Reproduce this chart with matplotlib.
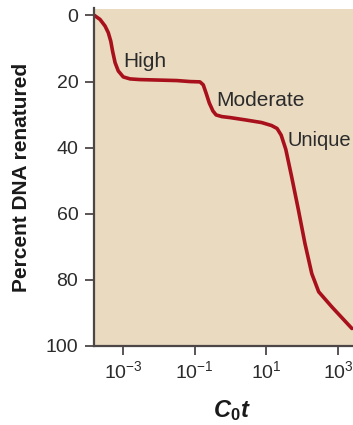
import matplotlib
matplotlib.use("Agg")
import matplotlib.pyplot as plt
from matplotlib.ticker import FixedLocator, NullLocator

plt.rcParams['font.family'] = ['Liberation Sans', 'DejaVu Sans']
plt.rcParams['mathtext.fontset'] = 'custom'
plt.rcParams['mathtext.rm'] = 'Liberation Sans'
plt.rcParams['mathtext.it'] = 'Liberation Sans:italic'
plt.rcParams['mathtext.bf'] = 'Liberation Sans:bold'
plt.rcParams['mathtext.bfit'] = 'Liberation Sans:italic:bold'

# Data (C0t, percent DNA renatured)
c0t = [1.6e-4, 2.29e-4, 3.16e-4, 3.89e-4, 4.57e-4, 5.13e-4, 6.03e-4, 7.41e-4,
       1.02e-3, 1.58e-3, 2.95e-3, 3.2e-2, 0.074, 0.141, 0.174, 0.209, 0.257,
       0.324, 0.398, 0.575, 0.977, 2.6, 7.4, 14, 20, 26, 35, 51, 79, 120, 186,
       290, 680, 2450]
renatured = [0, 1.2, 3.2, 5.2, 7.8, 10.8, 14.3, 16.8,
             18.6, 19.2, 19.4, 19.7, 20.0, 20.1, 21.0, 23.5, 26.5,
             28.9, 30.1, 30.6, 30.9, 31.6, 32.4, 33.3, 34.2, 36.2, 40.5, 48.8,
             58.9, 69.0, 78.1, 83.6, 88.2, 94.7]

y_ticks = [0, 20, 40, 60, 80, 100]
x_ticks = [1e-3, 1e-1, 1e1, 1e3]
x_tick_labels = [r'$10^{-3}$', r'$10^{-1}$', r'$10^{1}$', r'$10^{3}$']

labels = ["High", "Moderate", "Unique"]
label_x = [1.0e-3, 0.40, 39]
label_y = [14, 25.8, 37.7]

W, H = 353, 425
fig = plt.figure(figsize=(W / 100, H / 100), dpi=100)
left, right, top, bottom = 94.3, 353, 8.5, 346
ax = fig.add_axes([left / W, 1 - bottom / H, (right - left) / W, (bottom - top) / H])

ax.set_facecolor('#E9DAC0')
ax.plot(c0t, renatured, color='#A8101C', lw=2.6, solid_joinstyle='round',
        solid_capstyle='round', clip_on=True)
ax.set_xscale('log')
ax.set_xlim(10 ** -3.80, 10 ** 3.42)
ax.set_ylim(100, -2.1)

for s in ['top', 'right']:
    ax.spines[s].set_visible(False)
for s in ['left', 'bottom']:
    ax.spines[s].set_color('#4d4646')
    ax.spines[s].set_linewidth(1.6)

ax.xaxis.set_major_locator(FixedLocator(x_ticks))
ax.xaxis.set_minor_locator(NullLocator())
ax.set_xticklabels(x_tick_labels)
ax.set_yticks(y_ticks)
ax.tick_params(axis='both', colors='#4d4646', labelcolor='#2b2b2b',
               labelsize=14, length=6.5, width=1.3, direction='out')
ax.tick_params(axis='y', pad=5)
ax.tick_params(axis='x', pad=4)

for t, xx, yy in zip(labels, label_x, label_y):
    fs = 14.5 if t == "Unique" else 15
    ax.text(xx, yy, t, fontsize=fs, color='#2b2b2b', ha='left', va='center')

fig.text(22 / W, 1 - 177.5 / H, 'Percent DNA renatured', rotation=90,
         ha='center', va='center', fontsize=15, fontweight='bold', color='#1a1a1a')
fig.text(232 / W, 1 - 411 / H, r'$\mathbfit{C}_{\mathbf{0}}\mathbfit{t}$',
         ha='center', va='center', fontsize=17, color='#1a1a1a')

fig.savefig('out.png', dpi=100)
